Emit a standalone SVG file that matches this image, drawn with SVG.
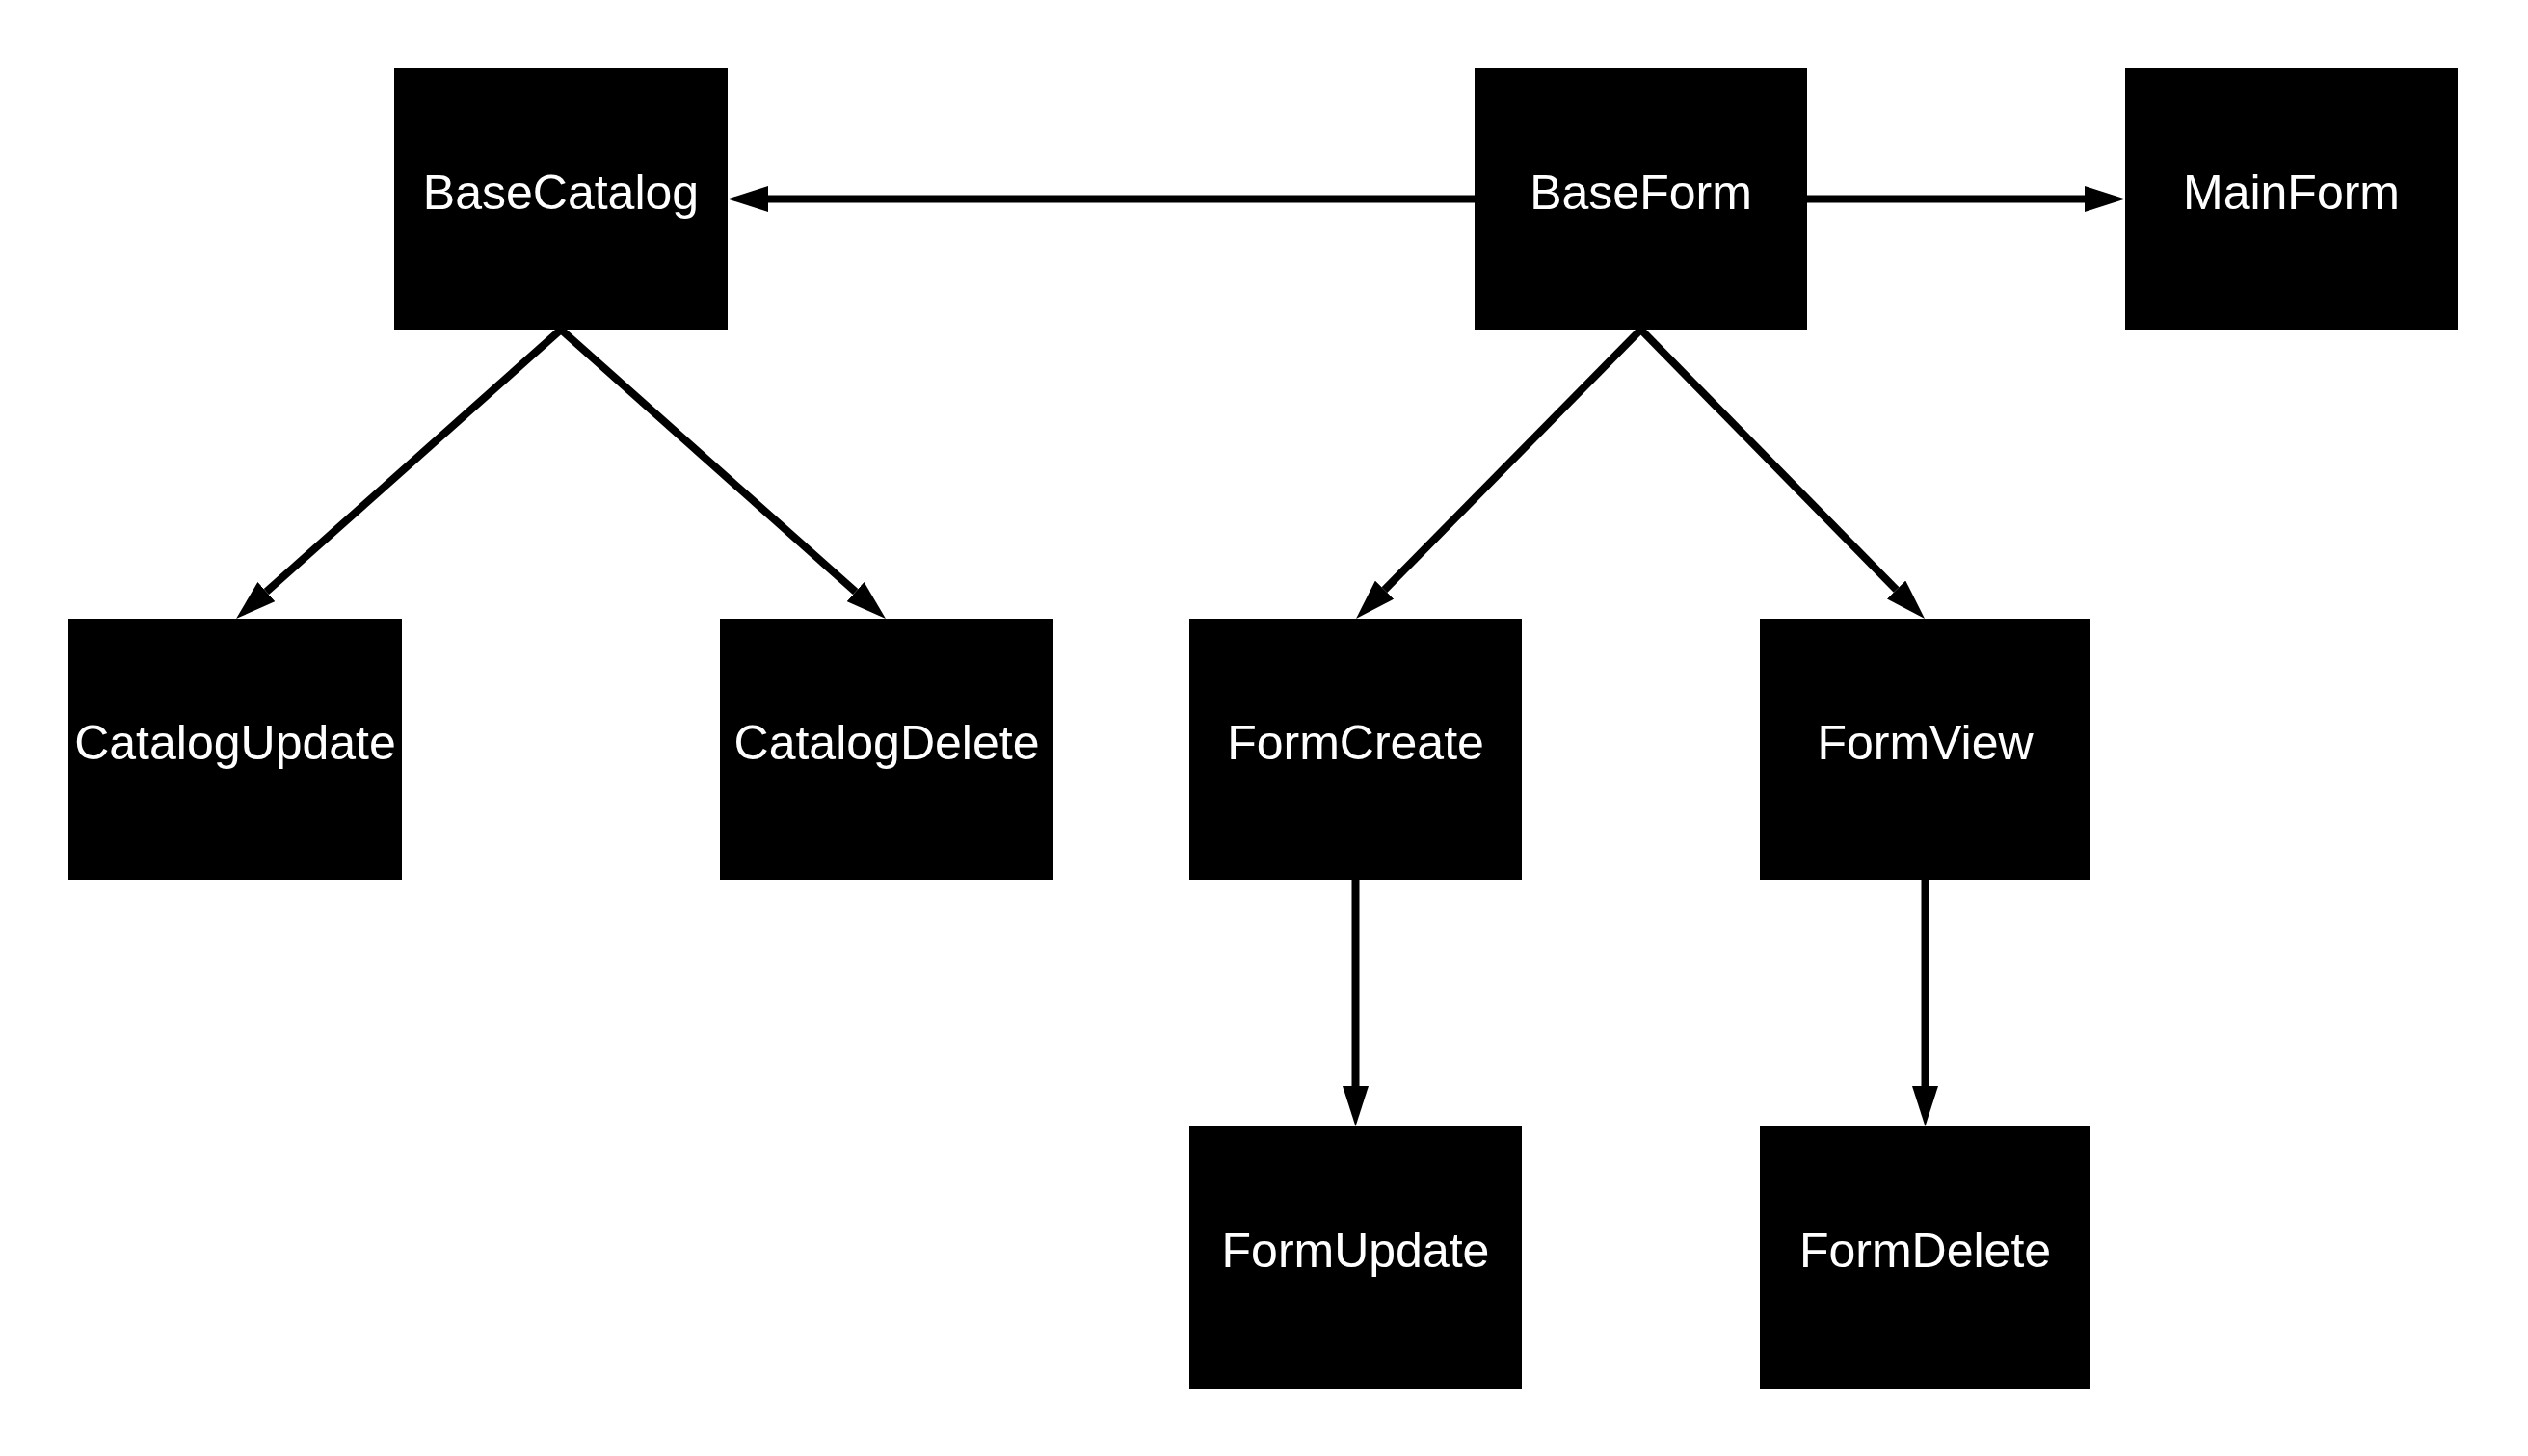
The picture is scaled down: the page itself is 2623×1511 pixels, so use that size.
<svg xmlns="http://www.w3.org/2000/svg" width="2623" height="1511" viewBox="0 0 2623 1511">
<style>
.node rect{fill:#000}
.node text{fill:#fff;font-family:"Liberation Sans",Arial,sans-serif;font-size:50px;text-anchor:middle}
.edge{stroke:#000;stroke-width:8;fill:none;marker-end:url(#ah)}
</style>
<defs>
<marker id="ah" viewBox="0 0 42 27" markerWidth="42" markerHeight="27" refX="0" refY="13.5" orient="auto" markerUnits="userSpaceOnUse">
<path d="M0,0 L42,13.5 L0,27 Z" fill="#000"/>
</marker>
</defs>
<rect width="2623" height="1511" fill="#fff"/>
<g id="connectors">
<line class="edge" x1="1530" y1="206.5" x2="797" y2="206.5"/>
<line class="edge" x1="1875" y1="206.5" x2="2163" y2="206.5"/>
<line class="edge" x1="582" y1="342" x2="276.4" y2="614.1"/>
<line class="edge" x1="582" y1="342" x2="887.6" y2="614.1"/>
<line class="edge" x1="1702.5" y1="342" x2="1436.5" y2="612.1"/>
<line class="edge" x1="1702.5" y1="342" x2="1967.6" y2="612"/>
<line class="edge" x1="1406.5" y1="913" x2="1406.5" y2="1127"/>
<line class="edge" x1="1997.5" y1="913" x2="1997.5" y2="1127"/>
</g>
<g id="BaseCatalog" class="node"><rect x="409" y="71" width="346" height="271"/><text x="582" y="217">BaseCatalog</text></g>
<g id="BaseForm" class="node"><rect x="1530" y="71" width="345" height="271"/><text x="1702.5" y="217">BaseForm</text></g>
<g id="MainForm" class="node"><rect x="2205" y="71" width="345" height="271"/><text x="2377.5" y="217">MainForm</text></g>
<g id="CatalogUpdate" class="node"><rect x="71" y="642" width="346" height="271"/><text x="244" y="788">CatalogUpdate</text></g>
<g id="CatalogDelete" class="node"><rect x="747" y="642" width="346" height="271"/><text x="920" y="788">CatalogDelete</text></g>
<g id="FormCreate" class="node"><rect x="1234" y="642" width="345" height="271"/><text x="1406.5" y="788">FormCreate</text></g>
<g id="FormView" class="node"><rect x="1826" y="642" width="343" height="271"/><text x="1997.5" y="788">FormView</text></g>
<g id="FormUpdate" class="node"><rect x="1234" y="1169" width="345" height="272"/><text x="1406.5" y="1315">FormUpdate</text></g>
<g id="FormDelete" class="node"><rect x="1826" y="1169" width="343" height="272"/><text x="1997.5" y="1315">FormDelete</text></g>
</svg>
